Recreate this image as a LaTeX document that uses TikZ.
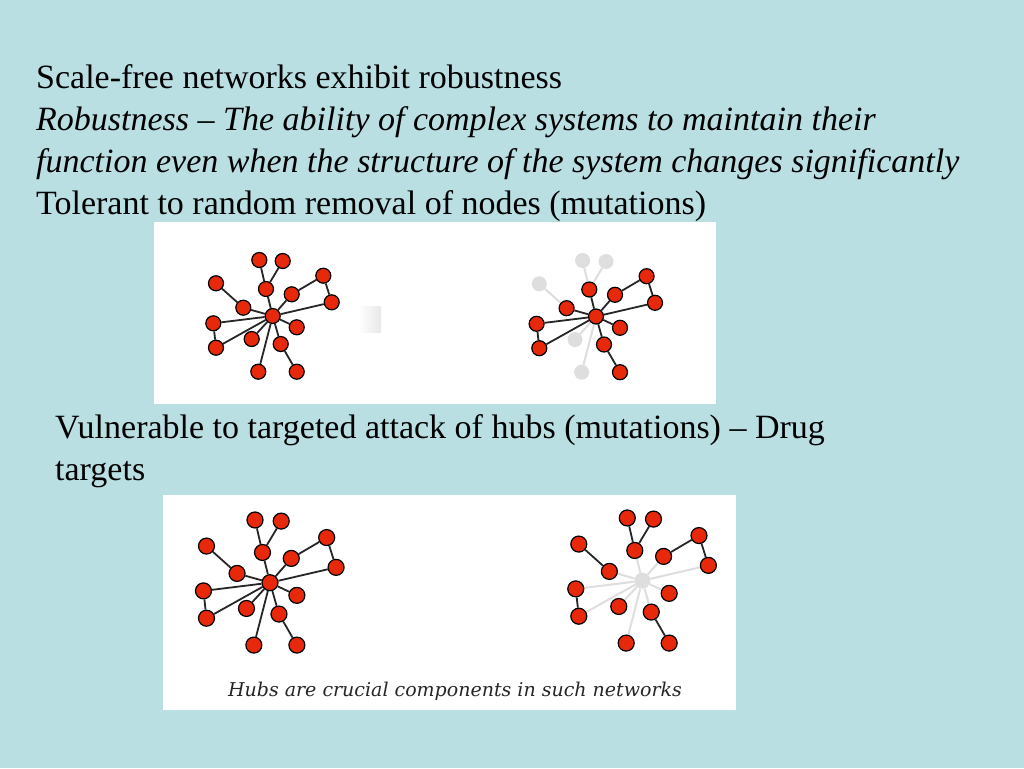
\documentclass[tikz,border=0pt]{standalone}
\usepackage{fontspec}
\setmainfont{Liberation Serif}
\newfontfamily\capfont{DejaVu Serif}
\usetikzlibrary{positioning}
\pgfdeclarelayer{panel}
\pgfdeclarelayer{links}
\pgfsetlayers{panel,links,main}
\definecolor{slide}{RGB}{185,223,227}
\definecolor{nodered}{RGB}{232,40,10}
\definecolor{faint}{RGB}{222,222,222}
\tikzset{
  vtx/.style={circle, draw=black, fill=nodered, line width=1.2pt, minimum size=15pt, inner sep=0pt},
  gone/.style={circle, fill=faint, minimum size=15pt, inner sep=0pt},
  link/.style={draw=black!85, line width=1.8pt},
  faded/.style={draw=faint, line width=2pt},
  txt/.style={anchor=base west, inner sep=0pt, font=\fontsize{34}{41}\selectfont}
}
% points of one network, round its hub (0)
\newcommand{\netlayout}[1]{%
  \foreach \n/\x/\y in {0/0/0, 1/-13.4/-56, 2/10/-55, 3/-6.7/-27, 4/-56.7/-32.7,
      5/-29.4/-8.3, 6/19/-21.7, 7/50.6/-40.3, 8/59/-13.7, 9/-59.4/7.3,
      10/-56.7/31.7, 11/-21/23, 12/24/11.3, 13/8/28, 14/24/55.7, 15/-14.4/55.7}
    \coordinate (#1p\n) at (\x,\y);
}
\def\hublinks{0/3,0/5,0/6,0/8,0/9,0/10,0/11,0/12,0/13,0/15}
\def\leaflinks{3/1,3/2,5/4,6/7,7/8,9/10,13/14}

\begin{document}
\begin{tikzpicture}[x=1pt, y=-1pt]
  \useasboundingbox (0,0) rectangle (1024,768);

  % slide and white panels
  \begin{pgfonlayer}{panel}
    \fill[slide] (0,0) rectangle (1024,768);
    \fill[white] (153.5,221.5) rectangle (716,404);
    \fill[white] (163,495) rectangle (736,709.5);
    \shade[left color=white, right color=black!9] (358,306) rectangle (381,332);
  \end{pgfonlayer}

  % texts
  \node[txt] (title) at (36,88) {Scale-free networks exhibit robustness};
  \node[txt, font=\fontsize{34}{41}\selectfont\itshape] (def1) at (36,130)
    {Robustness -- The ability of complex systems to maintain their};
  \node[txt, font=\fontsize{34}{41}\selectfont\itshape] (def2) at (36,172)
    {function even when the structure of the system changes significantly};
  \node[txt] (tolerant) at (36,214) {Tolerant to random removal of nodes (mutations)};
  \node[txt] (vuln1) at (55,438) {Vulnerable to targeted attack of hubs (mutations) -- Drug};
  \node[txt] (vuln2) at (55,480) {targets};
  \node[anchor=base, inner sep=0pt, text=black!85, font=\capfont\itshape\fontsize{19}{21}\selectfont]
    (caption) at (455,696) {Hubs are crucial components in such networks};

  % top left: whole network
  \begin{scope}[shift={(272.7,316)}]
    \netlayout{tl}
  \end{scope}
  \foreach \n in {0,...,15} \node[vtx] (tl\n) at (tlp\n) {};
  \begin{pgfonlayer}{links}
    \foreach \s/\t in \hublinks \draw[link] (tl\s) -- (tl\t);
    \foreach \s/\t in \leaflinks \draw[link] (tl\s) -- (tl\t);
  \end{pgfonlayer}

  % top right: random nodes removed
  \begin{scope}[shift={(596,316.5)}]
    \netlayout{tr}
  \end{scope}
  \foreach \n in {0,3,5,6,7,8,9,10,12,13,14} \node[vtx] (tr\n) at (trp\n) {};
  \foreach \n in {1,2,4,11,15} \node[gone] (tr\n) at (trp\n) {};
  \begin{pgfonlayer}{links}
    \foreach \s/\t in {3/1,3/2,5/4,0/11,0/15} \draw[faded] (tr\s) -- (tr\t);
    \foreach \s/\t in {0/3,0/5,0/6,0/8,0/9,0/10,0/12,0/13,6/7,7/8,9/10,13/14}
      \draw[link] (tr\s) -- (tr\t);
  \end{pgfonlayer}

  % bottom left: whole network
  \begin{scope}[shift={(270,582.7)}, scale=1.12]
    \netlayout{bl}
  \end{scope}
  \foreach \n in {0,...,15} \node[vtx, minimum size=16pt] (bl\n) at (blp\n) {};
  \begin{pgfonlayer}{links}
    \foreach \s/\t in \hublinks \draw[link] (bl\s) -- (bl\t);
    \foreach \s/\t in \leaflinks \draw[link] (bl\s) -- (bl\t);
  \end{pgfonlayer}

  % bottom right: hub removed
  \begin{scope}[shift={(642.3,580.7)}, scale=1.12]
    \netlayout{br}
  \end{scope}
  \node[gone, minimum size=16pt] (br0) at (brp0) {};
  \foreach \n in {1,...,15} \node[vtx, minimum size=16pt] (br\n) at (brp\n) {};
  \begin{pgfonlayer}{links}
    \foreach \s/\t in \hublinks \draw[faded] (br\s) -- (br\t);
    \foreach \s/\t in \leaflinks \draw[link] (br\s) -- (br\t);
  \end{pgfonlayer}
\end{tikzpicture}
\end{document}
